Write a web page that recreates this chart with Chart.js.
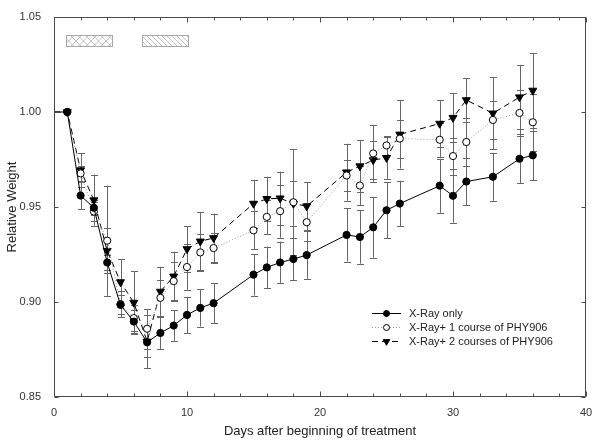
<!DOCTYPE html>
<html><head><meta charset="utf-8">
<script src="https://cdn.jsdelivr.net/npm/chart.js@4.4.0/dist/chart.umd.min.js"></script>
<style>html,body{margin:0;padding:0;background:#fff}</style>
</head><body>
<canvas id="c" width="600" height="444" style="width:600px;height:444px;display:block"></canvas>
<script>
// ---- data ----
const days = [0,1,2,3,4,5,6,7,8,9,10,11,12,15,16,17,18,19,22,23,24,25,26,29,30,31,33,35,36];
const xrayOnly    = [1.000,1.000,0.956,0.9496,0.9208,0.8985,0.8897,0.8788,0.8837,0.8876,0.8932,0.8969,0.8994,0.9144,0.9182,0.9208,0.9226,0.9247,0.9353,0.9342,0.9393,0.9483,0.9518,0.9612,0.9559,0.9634,0.9659,0.9754,0.9772];
const xrayOnlyErr = [0,0,0.007,0.004,0.004,0.005,0.006,0.008,0.0086,0.008,0.0095,0.0098,0.0106,0.011,0.011,0.011,0.011,0.0125,0.014,0.014,0.016,0.0146,0.012,0.0142,0.0142,0.0126,0.0126,0.013,0.013];
const oneCourse    = [1.000,1.000,0.9677,0.9476,0.9323,0.8989,0.8915,0.8859,0.9022,0.911,0.9184,0.9261,0.9284,0.9377,0.9448,0.9478,0.9525,0.9420,0.9666,0.9613,0.9782,0.9824,0.9860,0.9854,0.9768,0.9842,0.9958,0.9995,0.9946];
const oneCourseErr = [0,0,0.004,0.005,0.029,0.007,0.007,0.0104,0.0095,0.010,0.012,0.0095,0.008,0.010,0.009,0.014,0.028,0.010,0.008,0.0104,0.015,0.005,0.010,0.009,0.0097,0.0128,0.010,0.012,0.015];
const twoCourses    = [1.000,1.000,0.9694,0.9536,0.9270,0.9105,0.8997,0.8792,0.9055,0.9135,0.9279,0.9319,0.9337,0.9518,0.9543,0.9546,0.9518,0.9504,0.9683,0.9715,0.9747,0.9759,0.9882,0.9939,0.9970,1.0063,0.9993,1.0078,1.0113];
const twoCoursesErr = [0,0,0.0088,0.0134,0.012,0.012,0.0165,0.014,0.013,0.013,0.012,0.0155,0.0128,0.0126,0.0116,0.014,0.012,0.0125,0.015,0.0137,0.010,0.011,0.018,0.0123,0.013,0.0116,0.019,0.017,0.0197];
const seriesNames = ['X-Ray only','X-Ray+ 1 course of PHY906','X-Ray+ 2 courses of PHY906'];
const xTickLabels = ['0','10','20','30','40'];
const yTickLabels = ['0.85','0.90','0.95','1.00','1.05'];
// treatment course bars (day start, day end), drawn near the top
const courseStart = [0.9, 6.6];
const courseEnd   = [4.35, 10.1];
const courseLow  = 1.0345;
const courseHigh = 1.0406;
const coursePattern = ['cross','diag'];

// ---- chart ----
const FONT = "'Liberation Sans', Arial, sans-serif";
Chart.defaults.font.family = FONT;

function pts(vals){ return days.map((d,i)=>({x:d,y:vals[i]})); }
const rad = r => (ctx => days[ctx.dataIndex]===0 ? 0 : r);

const datasets = [
  {label:seriesNames[0], data:pts(xrayOnly), err:xrayOnlyErr, borderColor:'#000', borderWidth:1,
   pointStyle:'circle', pointRadius:rad(3.6), pointBackgroundColor:'#000', pointBorderColor:'#000', pointBorderWidth:1, showLine:true},
  {label:seriesNames[1], data:pts(oneCourse), err:oneCourseErr, borderColor:'#9a9a9a', borderWidth:1, borderDash:[1,2],
   pointStyle:'circle', pointRadius:rad(3.6), pointBackgroundColor:'#fff', pointBorderColor:'#000', pointBorderWidth:1, showLine:true},
  {label:seriesNames[2], data:pts(twoCourses), err:twoCoursesErr, borderColor:'#000', borderWidth:1, borderDash:[6,4],
   pointStyle:'triangle', rotation:180, pointRotation:180, pointRadius:rad(4.6), pointBackgroundColor:'#000', pointBorderColor:'#000', pointBorderWidth:1, showLine:true}
];

const errorBars = {
  id:'errorBars',
  beforeDatasetsDraw(chart){
    const {ctx, scales:{x,y}} = chart;
    ctx.save();
    ctx.strokeStyle = '#666'; ctx.lineWidth = 1;
    chart.data.datasets.forEach(ds=>{
      ds.data.forEach((p,i)=>{
        const e = ds.err[i]; if(!e) return;
        const px = Math.round(x.getPixelForValue(p.x))+0.5;
        const y1 = y.getPixelForValue(p.y+e), y2 = y.getPixelForValue(p.y-e);
        ctx.beginPath();
        ctx.moveTo(px,y1); ctx.lineTo(px,y2);
        ctx.moveTo(px-3.5,Math.round(y1)+0.5); ctx.lineTo(px+3.5,Math.round(y1)+0.5);
        ctx.moveTo(px-3.5,Math.round(y2)+0.5); ctx.lineTo(px+3.5,Math.round(y2)+0.5);
        ctx.stroke();
      });
    });
    ctx.restore();
  }
};

const courseBoxes = {
  id:'courseBoxes',
  beforeDatasetsDraw(chart){
    const {ctx, scales:{x,y}} = chart;
    ctx.save();
    courseStart.forEach((s,i)=>{
      const x0 = Math.round(x.getPixelForValue(s))+0.5, x1 = Math.round(x.getPixelForValue(courseEnd[i]))+0.5;
      const y0 = Math.round(y.getPixelForValue(courseHigh))+0.5, y1 = Math.round(y.getPixelForValue(courseLow))+0.5;
      ctx.save();
      ctx.beginPath(); ctx.rect(x0,y0,x1-x0,y1-y0); ctx.clip();
      ctx.strokeStyle = '#b0b0b0'; ctx.lineWidth = 0.8;
      ctx.beginPath();
      const h = y1-y0;
      if(coursePattern[i]==='cross'){
        const sp = 7.5;
        for(let k=x0-h; k<x1+h; k+=sp){
          ctx.moveTo(k,y0); ctx.lineTo(k+h,y1);
          ctx.moveTo(k+h,y0); ctx.lineTo(k,y1);
        }
      } else {
        const sp = 5;
        for(let k=x0-h; k<x1+h; k+=sp){
          ctx.moveTo(k,y0); ctx.lineTo(k+h,y1);
        }
      }
      ctx.stroke();
      ctx.restore();
      ctx.strokeStyle = '#a8a8a8'; ctx.lineWidth = 1;
      ctx.strokeRect(x0,y0,x1-x0,y1-y0);
    });
    ctx.restore();
  }
};

const frame = {
  id:'frame',
  afterDatasetsDraw(chart){
    const {ctx, chartArea:a, scales:{x,y}} = chart;
    ctx.save();
    ctx.strokeStyle = '#4a4a4a'; ctx.lineWidth = 1;
    const L = Math.round(a.left)+0.5, R = Math.round(a.right)-0.5, T = Math.round(a.top)+0.5, B = Math.round(a.bottom)-0.5;
    ctx.beginPath();
    ctx.rect(L,T,R-L,B-T);
    // x ticks (minor every 2 days, major every 10), inward top & bottom
    for(let v=x.min; v<=x.max+1e-9; v+=2){
      const px = Math.round(x.getPixelForValue(v))+0.5;
      const len = (Math.abs(v%10)<1e-9) ? 5 : 3;
      ctx.moveTo(px,B); ctx.lineTo(px,B-len);
      ctx.moveTo(px,T); ctx.lineTo(px,T+len);
    }
    y.ticks.forEach(t=>{
      const py = Math.round(y.getPixelForValue(t.value))+0.5;
      ctx.moveTo(L,py); ctx.lineTo(L+4,py);
      ctx.moveTo(R,py); ctx.lineTo(R-4,py);
    });
    ctx.stroke();
    ctx.restore();
  }
};

const legendBox = {
  id:'legendBox',
  afterDraw(chart){
    const {ctx} = chart;
    const x0 = 372, x1 = 401, xm = 386.5, tx = 409;
    const rows = [313.5, 327.5, 341.5];
    ctx.save();
    chart.data.datasets.forEach((ds,i)=>{
      const yy = rows[i];
      ctx.strokeStyle = ds.borderColor; ctx.lineWidth = 1;
      ctx.setLineDash(ds.borderDash||[]);
      ctx.beginPath(); ctx.moveTo(x0,yy); ctx.lineTo(x1,yy); ctx.stroke();
      ctx.setLineDash([]);
      ctx.fillStyle = ds.pointBackgroundColor; ctx.strokeStyle = ds.pointBorderColor; ctx.lineWidth = 1;
      Chart.helpers.drawPoint(ctx, {pointStyle:ds.pointStyle, radius: i===2?3.8:3, rotation: ds.rotation||0, borderWidth:1}, xm, yy);
      ctx.fillStyle = '#222'; ctx.font = "11px " + FONT; ctx.textBaseline = 'middle'; ctx.textAlign = 'left';
      ctx.fillText(ds.label, tx, yy);
    });
    ctx.restore();
  }
};

new Chart(document.getElementById('c'), {
  type:'scatter',
  data:{datasets},
  options:{
    responsive:false, animation:false, devicePixelRatio:1,
    layout:{padding:{top:17,right:14,left:0,bottom:0}},
    plugins:{legend:{display:false}, tooltip:{enabled:false}},
    scales:{
      x:{type:'linear', min:0, max:40,
         grid:{display:false}, border:{display:false},
         ticks:{stepSize:10, padding:1, color:'#333', font:{size:11}, maxRotation:0,
                callback:(v)=>{const i=xTickLabels.indexOf(String(v)); return i>=0?xTickLabels[i]:'';}},
         title:{display:true, text:'Days after beginning of treatment', color:'#222', font:{size:13}, padding:{top:0,bottom:5}},
         afterFit:s=>{s.height=47;}},
      y:{type:'linear', min:0.85, max:1.05,
         grid:{display:false}, border:{display:false},
         ticks:{stepSize:0.05, padding:5, color:'#333', font:{size:11},
                callback:(v)=>{const s=Number(v).toFixed(2); return yTickLabels.includes(s)?s:'';}},
         title:{display:true, text:'Relative Weight', color:'#222', font:{size:13}, padding:{top:5,bottom:0}},
         afterFit:s=>{s.width=54;}}
    }
  },
  plugins:[courseBoxes, errorBars, frame, legendBox]
});
</script>
</body></html>
